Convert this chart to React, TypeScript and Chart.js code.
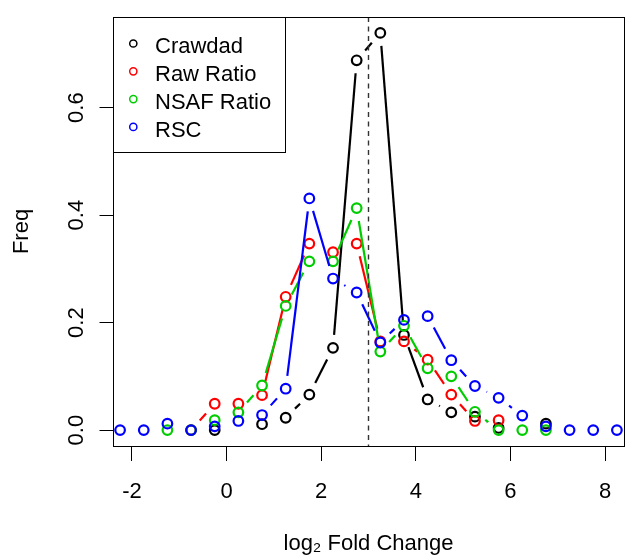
import React, { useEffect, useRef } from "react";
import { Chart, registerables } from "chart.js";

Chart.register(...registerables);

// Bin centres (log2 fold change)
const bins = [-2.25, -1.75, -1.25, -0.75, -0.25, 0.25, 0.75, 1.25, 1.75, 2.25, 2.75, 3.25, 3.75, 4.25, 4.75, 5.25, 5.75, 6.25, 6.75, 7.25, 7.75, 8.25];

const crawdad = [null, null, null, null, 0.0, null, 0.011, 0.023, 0.066, 0.153, 0.688, 0.739, 0.177, 0.057, 0.033, 0.025, 0.004, null, 0.012, null, null, null];
const rawRatio = [null, null, null, 0.0, 0.049, 0.049, 0.065, 0.248, 0.347, 0.331, 0.347, 0.165, 0.165, 0.131, 0.066, 0.017, 0.0185, null, null, null, null, null];
const nsafRatio = [null, null, 0.0, 0.0, 0.0185, 0.033, 0.083, 0.231, 0.314, 0.314, 0.413, 0.146, 0.194, 0.115, 0.1, 0.034, 0.0, 0.0, 0.0, null, null, null];
const rsc = [0.0, 0.0, 0.012, 0.0, 0.007, 0.017, 0.028, 0.077, 0.431, 0.282, 0.256, 0.163, 0.205, 0.212, 0.13, 0.082, 0.06, 0.027, 0.007, 0.0, 0.0, 0.0];

const seriesLabels = ["Crawdad", "Raw Ratio", "NSAF Ratio", "RSC"];
const seriesColors = ["#000000", "#FF0000", "#00CD00", "#0000FF"];
const seriesValues = [crawdad, rawRatio, nsafRatio, rsc];

const xTicks = [-2, 0, 2, 4, 6, 8];
const yTicks = [0, 0.2, 0.4, 0.6];
const cutoff = 3;

const FONT = "'Liberation Sans', Arial, Helvetica, sans-serif";
const GAP = 13;

const gapLinesPlugin = {
  id: "gapLines",
  beforeDatasetDraw(chart: any, args: any) {
    const idx = args.index;
    const vals = seriesValues[idx];
    if (!vals) return;
    const { ctx, chartArea } = chart;
    const xs = chart.scales.x;
    const ys = chart.scales.y;
    ctx.save();
    ctx.beginPath();
    ctx.rect(chartArea.left, chartArea.top, chartArea.right - chartArea.left, chartArea.bottom - chartArea.top);
    ctx.clip();
    ctx.strokeStyle = seriesColors[idx];
    ctx.lineWidth = 2.2;
    ctx.lineCap = "butt";
    for (let i = 0; i < bins.length - 1; i++) {
      const a = vals[i];
      const b = vals[i + 1];
      if (a == null || b == null) continue;
      const x1 = xs.getPixelForValue(bins[i]);
      const y1 = ys.getPixelForValue(a);
      const x2 = xs.getPixelForValue(bins[i + 1]);
      const y2 = ys.getPixelForValue(b);
      const dx = x2 - x1;
      const dy = y2 - y1;
      const d = Math.sqrt(dx * dx + dy * dy);
      if (d <= 2 * GAP) continue;
      const ux = dx / d;
      const uy = dy / d;
      ctx.beginPath();
      ctx.moveTo(x1 + ux * GAP, y1 + uy * GAP);
      ctx.lineTo(x2 - ux * GAP, y2 - uy * GAP);
      ctx.stroke();
    }
    ctx.restore();
  },
};

const decorPlugin = {
  id: "decor",
  afterDatasetsDraw(chart: any) {
    const { ctx, chartArea } = chart;
    const xs = chart.scales.x;
    const ys = chart.scales.y;
    ctx.save();
    // dashed cutoff line
    const cx = xs.getPixelForValue(cutoff);
    ctx.strokeStyle = "#333333";
    ctx.lineWidth = 1.4;
    ctx.setLineDash([5, 4.5]);
    ctx.beginPath();
    ctx.moveTo(cx, chartArea.top);
    ctx.lineTo(cx, chartArea.bottom);
    ctx.stroke();
    ctx.setLineDash([]);
    // box
    ctx.strokeStyle = "#000";
    ctx.lineWidth = 1;
    ctx.strokeRect(
      Math.round(chartArea.left) + 0.5,
      Math.round(chartArea.top) + 0.5,
      Math.round(chartArea.right - chartArea.left),
      Math.round(chartArea.bottom - chartArea.top)
    );
    // y tick labels (rotated, R style)
    ctx.fillStyle = "#000";
    ctx.font = `22px ${FONT}`;
    ctx.textAlign = "center";
    ctx.textBaseline = "alphabetic";
    for (const v of yTicks) {
      const py = ys.getPixelForValue(v);
      ctx.save();
      ctx.translate(83.3, py);
      ctx.rotate(-Math.PI / 2);
      ctx.fillText(v.toFixed(1), 0, 0);
      ctx.restore();
    }
    // legend
    const lx = Math.round(chartArea.left) + 0.5;
    const ly = Math.round(chartArea.top) + 0.5;
    ctx.fillStyle = "#fff";
    ctx.fillRect(lx, ly, 172, 135);
    ctx.strokeStyle = "#000";
    ctx.lineWidth = 1;
    ctx.strokeRect(lx, ly, 172, 135);
    ctx.textAlign = "left";
    for (let i = 0; i < seriesLabels.length; i++) {
      const ry = 43.5 + i * 27.8;
      ctx.beginPath();
      ctx.arc(133.3, ry, 3.6, 0, Math.PI * 2);
      ctx.strokeStyle = seriesColors[i];
      ctx.lineWidth = 1.5;
      ctx.stroke();
      ctx.fillStyle = "#000";
      ctx.fillText(seriesLabels[i], 155, ry + 9.8);
    }
    ctx.restore();
  },
};

export default function App() {
  const canvasRef = useRef<HTMLCanvasElement | null>(null);

  useEffect(() => {
    const canvas = canvasRef.current;
    if (!canvas) return;
    const datasets = seriesValues.map((vals, i) => ({
      label: seriesLabels[i],
      data: bins
        .map((x, j) => (vals[j] == null ? null : { x, y: vals[j] }))
        .filter((p) => p !== null),
      showLine: false,
      borderColor: seriesColors[i],
      backgroundColor: "rgba(0,0,0,0)",
      pointBackgroundColor: "rgba(0,0,0,0)",
      pointBorderColor: seriesColors[i],
      pointBorderWidth: 2.2,
      pointRadius: 4.8,
      pointHoverRadius: 4.8,
      pointStyle: "circle",
      order: 3 - i,
    }));

    const chart = new Chart(canvas, {
      type: "scatter",
      data: { datasets: datasets as any },
      options: {
        animation: false,
        responsive: false,
        devicePixelRatio: 1,
        layout: { autoPadding: false, padding: { left: 0, right: 3, top: 17, bottom: 0 } },
        plugins: {
          legend: { display: false },
          tooltip: { enabled: false },
        },
        scales: {
          x: {
            type: "linear",
            min: -2.4,
            max: 8.4,
            afterBuildTicks: (s: any) => {
              s.ticks = xTicks.map((v) => ({ value: v }));
            },
            afterFit: (s: any) => {
              s.height = 112;
              s.paddingLeft = 0;
              s.paddingRight = 0;
            },
            grid: {
              drawOnChartArea: false,
              drawTicks: true,
              tickLength: 15,
              color: "#000",
              lineWidth: 1,
            },
            border: { display: false },
            ticks: {
              font: { family: FONT, size: 22 },
              color: "#000",
              padding: 17.5,
              maxRotation: 0,
              minRotation: 0,
              autoSkip: false,
              callback: (v: any) => String(v),
            },
            title: {
              display: true,
              text: "log₂ Fold Change",
              font: { family: FONT, size: 22 },
              color: "#000",
              padding: { top: 0, bottom: 0.7 },
            },
          },
          y: {
            type: "linear",
            min: -0.0296,
            max: 0.7686,
            afterBuildTicks: (s: any) => {
              s.ticks = yTicks.map((v) => ({ value: v }));
            },
            afterFit: (s: any) => {
              s.width = 113;
              s.paddingTop = 0;
              s.paddingBottom = 0;
            },
            grid: {
              drawOnChartArea: false,
              drawTicks: true,
              tickLength: 13.5,
              color: "#000",
              lineWidth: 1,
            },
            border: { display: false },
            ticks: { display: false },
            title: {
              display: true,
              text: "Freq",
              font: { family: FONT, size: 22 },
              color: "#000",
              padding: { top: 8.5, bottom: 0 },
            },
          },
        },
      },
      plugins: [gapLinesPlugin, decorPlugin],
    });
    return () => chart.destroy();
  }, []);

  return (
    <div style={{ position: "absolute", left: 0, top: 0, width: 627, height: 558, background: "#fff" }}>
      <canvas ref={canvasRef} width={627} height={558} style={{ display: "block", width: 627, height: 558 }} />
    </div>
  );
}
